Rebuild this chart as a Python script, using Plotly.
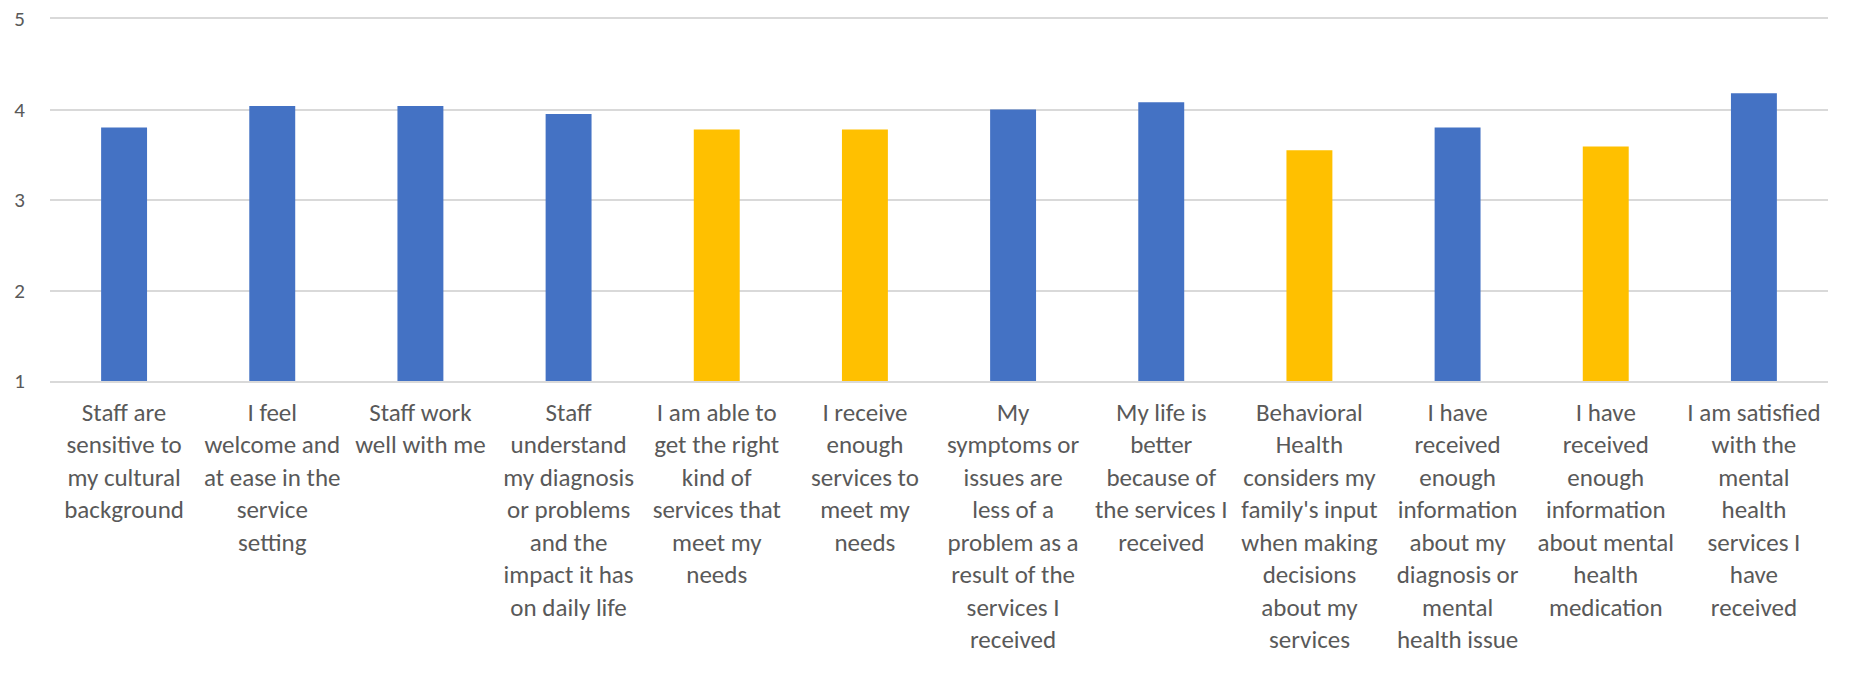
import plotly.graph_objects as go

# survey items, mean score (1-5) and which ones are flagged
categories = [
    "Staff are sensitive to my cultural background",
    "I feel welcome and at ease in the service setting",
    "Staff work well with me",
    "Staff understand my diagnosis or problems and the impact it has on daily life",
    "I am able to get the right kind of services that meet my needs",
    "I receive enough services to meet my needs",
    "My symptoms or issues are less of a problem as a result of the services I received",
    "My life is better because of the services I received",
    "Behavioral Health considers my family's input when making decisions about my services",
    "I have received enough information about my diagnosis or mental health issue",
    "I have received enough information about mental health medication",
    "I am satisfied with the mental health services I have received",
]
tick_labels = [
    "Staff are<br>sensitive to<br>my cultural<br>background",
    "I feel<br>welcome and<br>at ease in the<br>service<br>setting",
    "Staff work<br>well with me",
    "Staff<br>understand<br>my diagnosis<br>or problems<br>and the<br>impact it has<br>on daily life",
    "I am able to<br>get the right<br>kind of<br>services that<br>meet my<br>needs",
    "I receive<br>enough<br>services to<br>meet my<br>needs",
    "My<br>symptoms or<br>issues are<br>less of a<br>problem as a<br>result of the<br>services I<br>received",
    "My life is<br>better<br>because of<br>the services I<br>received",
    "Behavioral<br>Health<br>considers my<br>family's input<br>when making<br>decisions<br>about my<br>services",
    "I have<br>received<br>enough<br>information<br>about my<br>diagnosis or<br>mental<br>health issue",
    "I have<br>received<br>enough<br>information<br>about mental<br>health<br>medication",
    "I am satisfied<br>with the<br>mental<br>health<br>services I<br>have<br>received",
]
scores = [3.80, 4.04, 4.04, 3.95, 3.78, 3.78, 4.00, 4.08, 3.55, 3.80, 3.59, 4.18]
flagged = [False, False, False, False, True, True, False, False, True, False, True, False]

BLUE = "#4472C4"
GOLD = "#FFC000"
TXT = "#595959"
GRID = "#D9D9D9"
CLEAR = "rgba(0,0,0,0)"
FONT = "Calibri, Carlito, Lato, sans-serif"

fig = go.Figure(go.Bar(
    x=categories,
    y=[s - 1 for s in scores],
    base=1,
    marker=dict(color=[GOLD if f else BLUE for f in flagged], line=dict(width=0)),
    hovertext=[f"{s:.2f}" for s in scores],
))

fig.update_layout(
    width=1851,
    height=673,
    margin=dict(l=50, r=23, t=19, b=292),
    plot_bgcolor="white",
    paper_bgcolor="white",
    bargap=0.69,
    showlegend=False,
    font=dict(family=FONT, color=TXT),
)
fig.update_xaxes(
    tickvals=categories,
    ticktext=tick_labels,
    tickangle=0,
    tickfont=dict(size=25, color=TXT),
    showline=True,
    mirror=True,
    linecolor=GRID,
    linewidth=1.5,
    showgrid=False,
    ticks="outside",
    ticklen=8,
    tickcolor=CLEAR,
    automargin=False,
)
fig.update_yaxes(
    range=[1, 5],
    tickvals=[1, 2, 3, 4, 5],
    tickfont=dict(size=21, color=TXT),
    showgrid=True,
    gridcolor=GRID,
    gridwidth=1.5,
    zeroline=False,
    ticks="outside",
    ticklen=20,
    tickcolor=CLEAR,
    ticklabeloverflow="allow",
    automargin=False,
)

# drop the default 8px body margin so the figure fills the window exactly
fig.write_html(
    "out.html",
    config={"displayModeBar": False},
    post_script="document.body.style.margin='0';",
)
